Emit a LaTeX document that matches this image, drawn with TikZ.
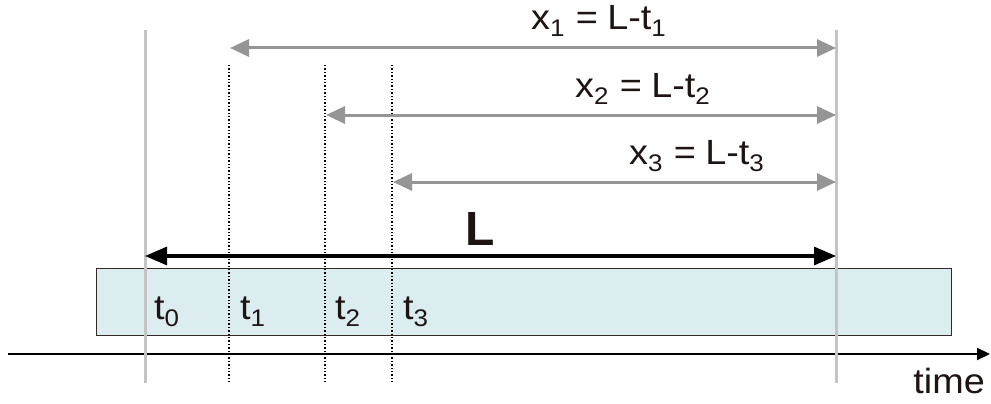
\documentclass[tikz,border=0pt]{standalone}
\usepackage{fontspec}
\setmainfont{Liberation Sans}
\usetikzlibrary{arrows.meta}
\definecolor{vgray}{HTML}{C4C4C4}
\definecolor{agray}{HTML}{959595}
\definecolor{boxfill}{HTML}{DCEDF0}
\definecolor{boxline}{HTML}{352828}
\definecolor{txt}{HTML}{1E1414}
\newcommand{\subx}[1]{\raisebox{-0.2em}{\fontsize{24}{24}\selectfont #1}}
\newcommand{\wide}[1]{\scalebox{1.08}[1]{#1}}
\tikzset{
  lbl/.style={inner sep=0pt, text=txt, font=\fontsize{35}{35}\selectfont},
  garrow/.style={draw=agray, line width=3pt, {Triangle[length=19pt,width=17pt]}-{Triangle[length=19pt,width=17pt]}},
  vline/.style={draw=vgray, line width=3pt},
  dline/.style={draw=black, line width=1.4pt, dotted},
}
\begin{document}
\begin{tikzpicture}[x=1pt,y=-1pt]
\useasboundingbox (0,0) rectangle (991,404);
% box
\node[draw=boxline, line width=1.2pt, fill=boxfill, minimum width=855pt, minimum height=67pt, inner sep=0pt, anchor=north west] (box) at (96,268) {};
% time axis
\coordinate (ax0) at (8,354);
\coordinate (ax1) at (990,354);
\draw[line width=2.2pt, -{Triangle[length=13pt,width=12pt]}] (ax0) -- (ax1);
% vertical reference lines
\coordinate (v0t) at (145,30); \coordinate (v0b) at (145,383);
\coordinate (v1t) at (836,30); \coordinate (v1b) at (836,383);
\draw[vline] (v0t) -- (v0b);
\draw[vline] (v1t) -- (v1b);
% dotted lines
\coordinate (d1t) at (229,65); \coordinate (d1b) at (229,382);
\coordinate (d2t) at (325,65); \coordinate (d2b) at (325,382);
\coordinate (d3t) at (392,65); \coordinate (d3b) at (392,382);
\draw[dline] (d1t) -- (d1b);
\draw[dline] (d2t) -- (d2b);
\draw[dline] (d3t) -- (d3b);
% gray arrows
\coordinate (a1l) at (230,48); \coordinate (a1r) at (836,48);
\coordinate (a2l) at (326,115); \coordinate (a2r) at (836,115);
\coordinate (a3l) at (393,182); \coordinate (a3r) at (836,182);
\draw[garrow] (a1l) -- (a1r);
\draw[garrow] (a2l) -- (a2r);
\draw[garrow] (a3l) -- (a3r);
% L arrow
\coordinate (Ll) at (145,256); \coordinate (Lr) at (836,256);
\draw[line width=3.2pt, {Triangle[length=22pt,width=18pt]}-{Triangle[length=22pt,width=18pt]}] (Ll) -- (Lr);
% labels
\node[lbl, anchor=base west] (x1) at (531,30) {\wide{x\subx{1}\hspace{0.3em}=\hspace{0.25em}L-t\subx{1}}};
\node[lbl, anchor=base west] (x2) at (575,97) {\wide{x\subx{2}\hspace{0.3em}=\hspace{0.25em}L-t\subx{2}}};
\node[lbl, anchor=base west] (x3) at (629,164) {\wide{x\subx{3}\hspace{0.3em}=\hspace{0.25em}L-t\subx{3}}};
\node[inner sep=0pt, anchor=base, text=txt, font=\fontsize{48}{48}\selectfont\bfseries] (L) at (480,245) {L};
\node[lbl, anchor=base west] (t0) at (154,319) {\wide{t\subx{0}}};
\node[lbl, anchor=base west] (t1) at (240,319) {\wide{t\subx{1}}};
\node[lbl, anchor=base west] (t2) at (335,319) {\wide{t\subx{2}}};
\node[lbl, anchor=base west] (t3) at (403,319) {\wide{t\subx{3}}};
\node[lbl, anchor=base east] (time) at (985,393) {\wide{time}};
\end{tikzpicture}
\end{document}
